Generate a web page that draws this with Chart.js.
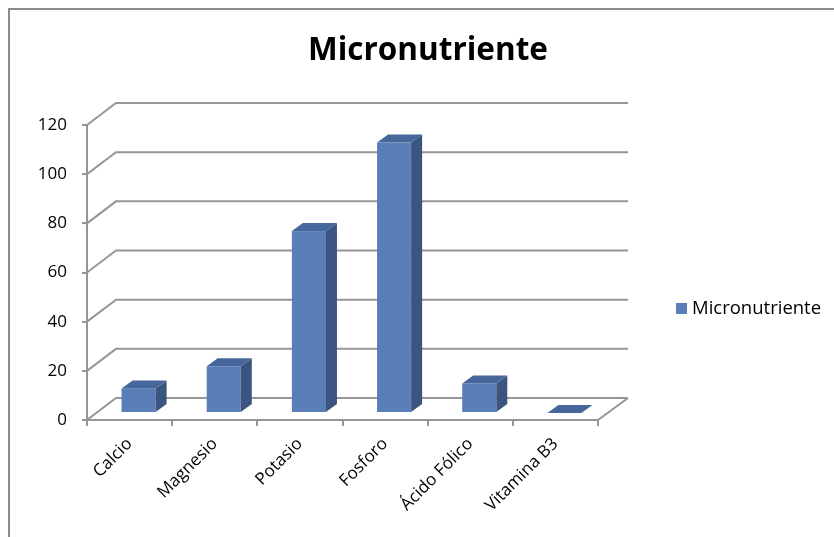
<!DOCTYPE html>
<html>
<head>
<meta charset="utf-8">
<script src="https://cdn.jsdelivr.net/npm/chart.js@4.4.1/dist/chart.umd.min.js"></script>
<style>
  html, body { margin: 0; padding: 0; background: #fff; }
</style>
</head>
<body>
<canvas id="microChart" width="834" height="537"></canvas>
<script>
// data
var chartTitle = 'Micronutriente';
var seriesName = 'Micronutriente';
var categories = ['Calcio', 'Magnesio', 'Potasio', 'Fosforo', 'Ácido Fólico', 'Vitamina B3'];
var values = [10, 19, 74, 110, 12, 0];
var yMin = 0, yMax = 120, yStep = 20;

// look
var fontFamily = '"Open Sans", Lato, sans-serif';
var gridColor = '#969696';
var frontColor = '#5a7fb8';
var sideColor = '#3b5580';
var topColor = '#46679b';

// 3d offsets: back wall, bar front face, bar depth
var wallDx = 29, wallDy = -22;
var barDx = 9, barDy = -7;
var depthDx = 11, depthDy = -8;

var fake3d = {
    id: 'fake3d',
    beforeDraw: function(chart) {
        var c = chart.ctx;
        c.save();
        c.fillStyle = '#fff';
        c.fillRect(0, 0, chart.width, chart.height);
        c.strokeStyle = '#8c8c8c';
        c.lineWidth = 2;
        c.strokeRect(9, 9, chart.width + 20, chart.height + 20);
        c.restore();
    },
    beforeDatasetsDraw: function(chart) {
        var c = chart.ctx, a = chart.chartArea, ys = chart.scales.y;
        c.save();
        c.strokeStyle = gridColor;
        c.lineWidth = 2;
        c.beginPath();
        ys.ticks.forEach(function(t) {
            var y = ys.getPixelForValue(t.value);
            c.moveTo(a.left, y);
            c.lineTo(a.left + wallDx, y + wallDy);
            c.lineTo(a.right + wallDx + 1, y + wallDy);
        });
        // right edge of the floor
        c.moveTo(a.right, a.bottom);
        c.lineTo(a.right + wallDx + 1, a.bottom + wallDy);
        c.stroke();
        c.restore();
    },
    afterDatasetsDraw: function(chart) {
        var c = chart.ctx;
        var meta = chart.getDatasetMeta(0);
        c.save();
        meta.data.forEach(function(bar) {
            var p = bar.getProps(['x', 'y', 'base', 'width'], true);
            var l = p.x - p.width / 2 + barDx, r = p.x + p.width / 2 + barDx;
            var top = p.y + barDy, bot = p.base + barDy;
            c.fillStyle = frontColor;
            c.fillRect(l, top, r - l, bot - top);
            c.fillStyle = sideColor;
            c.beginPath();
            c.moveTo(r, top); c.lineTo(r + depthDx, top + depthDy);
            c.lineTo(r + depthDx, bot + depthDy); c.lineTo(r, bot);
            c.closePath(); c.fill();
            c.fillStyle = topColor;
            c.beginPath();
            c.moveTo(l, top); c.lineTo(l + depthDx, top + depthDy);
            c.lineTo(r + depthDx, top + depthDy); c.lineTo(r, top);
            c.closePath(); c.fill();
        });
        c.restore();
    },
    afterDraw: function(chart) {
        var c = chart.ctx;
        c.save();
        // title
        c.fillStyle = '#000';
        c.font = 'bold 31.5px ' + fontFamily;
        c.textAlign = 'center';
        c.textBaseline = 'alphabetic';
        c.fillText(chartTitle, 428, 60);
        // legend
        c.fillStyle = frontColor;
        c.fillRect(676, 303, 11, 11);
        c.fillStyle = '#000';
        c.font = '18.5px ' + fontFamily;
        c.textAlign = 'left';
        c.textBaseline = 'middle';
        c.fillText(seriesName, 692, 309);
        c.restore();
    }
};

var ctx = document.getElementById('microChart').getContext('2d');
var microChart = new Chart(ctx, {
    type: 'bar',
    data: {
        labels: categories,
        datasets: [{
            label: seriesName,
            data: values,
            backgroundColor: 'rgba(0,0,0,0)',
            borderWidth: 0,
            barPercentage: 0.4,
            categoryPercentage: 1
        }]
    },
    options: {
        responsive: false,
        animation: false,
        layout: { padding: { top: 125, right: 236, bottom: 0, left: 0 } },
        plugins: {
            legend: { display: false },
            title: { display: false },
            tooltip: { enabled: false }
        },
        scales: {
            x: {
                grid: { drawOnChartArea: false, drawTicks: true, tickLength: 6, color: gridColor, lineWidth: 2 },
                border: { display: true, color: gridColor, width: 2 },
                ticks: {
                    color: '#000',
                    font: { family: fontFamily, size: 17 },
                    minRotation: 45, maxRotation: 45,
                    padding: 8
                },
                afterFit: function(scale) { scale.height = 117; }
            },
            y: {
                min: yMin, max: yMax,
                grid: { drawOnChartArea: false, drawTicks: true, tickLength: 5, color: gridColor, lineWidth: 2 },
                border: { display: true, color: gridColor, width: 2 },
                ticks: {
                    stepSize: yStep,
                    color: '#000',
                    font: { family: fontFamily, size: 17 },
                    padding: 15
                },
                afterFit: function(scale) { scale.width = 87; }
            }
        }
    },
    plugins: [fake3d]
});
</script>
</body>
</html>
